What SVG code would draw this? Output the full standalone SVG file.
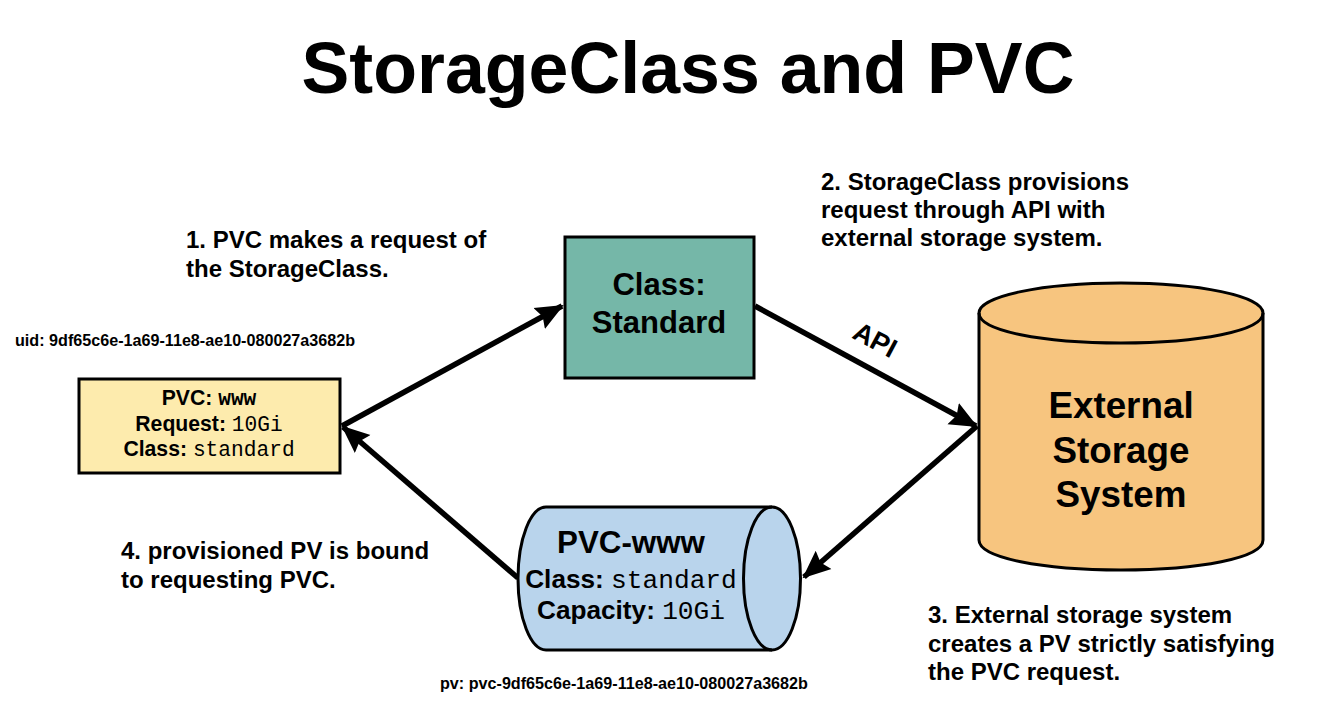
<svg xmlns="http://www.w3.org/2000/svg" width="1336" height="712" viewBox="0 0 1336 712">
<style>
text{font-family:"Liberation Sans",Arial,sans-serif;font-weight:700;fill:#000}
.m{font-family:"Liberation Mono","Courier New",monospace;font-weight:400}
.s{stroke:#000;stroke-width:3}
.c{fill:none;stroke:#000;stroke-width:5.5}
.n{font-size:21.2px}.l{font-size:24px}.v{font-size:26.2px}.u{font-size:16.15px}
</style>
<defs><marker id="a" markerUnits="userSpaceOnUse" markerWidth="30" markerHeight="28" refX="26" refY="14" orient="auto"><path d="M0 2L28 14L0 26L4 14Z" fill="#000"/></marker></defs>
<rect width="1336" height="712" fill="#fff"/>
<text x="688" y="93" font-size="71.7" text-anchor="middle">StorageClass and PVC</text>
<g id="connectors">
<path class="c" d="M342 426L562 306" marker-end="url(#a)"/>
<path class="c" d="M755 306L976 426" marker-end="url(#a)"/>
<path class="c" d="M977 426L804 577" marker-end="url(#a)"/>
<path class="c" d="M518 578L343 427" marker-end="url(#a)"/>
</g>
<g id="pvc-request">
<rect x="79" y="379" width="261" height="94" fill="#fdebad" class="s"/>
<text class="n" x="209" y="405" text-anchor="middle">PVC: <tspan class="m" style="font-weight:700">www</tspan></text>
<text class="n" x="209" y="431" text-anchor="middle">Request: <tspan class="m">10Gi</tspan></text>
<text class="n" x="209" y="456" text-anchor="middle">Class: <tspan class="m">standard</tspan></text>
</g>
<g id="storage-class">
<rect x="565" y="237" width="189" height="141" fill="#75b7a8" class="s"/>
<text x="659" y="295" font-size="31" text-anchor="middle">Class:</text>
<text x="659" y="333" font-size="31" text-anchor="middle">Standard</text>
</g>
<g id="external-storage">
<path d="M979 313C979 296 1043 283 1121 283C1199 283 1263 296 1263 313V540C1263 558 1199 570 1121 570C1043 570 979 558 979 540Z" fill="#f7c57f" class="s"/>
<path d="M979 313C979 331 1043 343 1121 343C1199 343 1263 331 1263 313" fill="none" class="s"/>
<text x="1121" y="418" font-size="36.8" text-anchor="middle">External</text>
<text x="1121" y="463" font-size="36.8" text-anchor="middle">Storage</text>
<text x="1121" y="507" font-size="36.8" text-anchor="middle">System</text>
</g>
<g id="pv">
<path d="M772 507H546A28 71.5 0 0 0 546 650H772A28.5 71.5 0 0 0 772 507Z" fill="#b9d4ec" class="s"/>
<path d="M772 507A28.5 71.5 0 0 0 772 650" fill="none" class="s"/>
<text x="631" y="553" font-size="31.3" text-anchor="middle">PVC-www</text>
<text class="v" x="631" y="588" text-anchor="middle">Class: <tspan class="m">standard</tspan></text>
<text class="v" x="631" y="619" text-anchor="middle">Capacity: <tspan class="m">10Gi</tspan></text>
</g>
<g class="l">
<text x="186" y="248">1. PVC makes a request of</text>
<text x="186" y="277">the StorageClass.</text>
<text x="821" y="190">2. StorageClass provisions</text>
<text x="821" y="218">request through API with</text>
<text x="821" y="246">external storage system.</text>
<text x="928" y="623">3. External storage system</text>
<text x="928" y="652">creates a PV strictly satisfying</text>
<text x="928" y="680">the PVC request.</text>
<text x="121" y="559">4. provisioned PV is bound</text>
<text x="121" y="588">to requesting PVC.</text>
<text x="875" y="349" font-size="27" text-anchor="middle" transform="rotate(28 875 340)">API</text>
</g>
<text class="u" x="15" y="346">uid: 9df65c6e-1a69-11e8-ae10-080027a3682b</text>
<text class="u" x="440" y="689">pv: pvc-9df65c6e-1a69-11e8-ae10-080027a3682b</text>
</svg>
